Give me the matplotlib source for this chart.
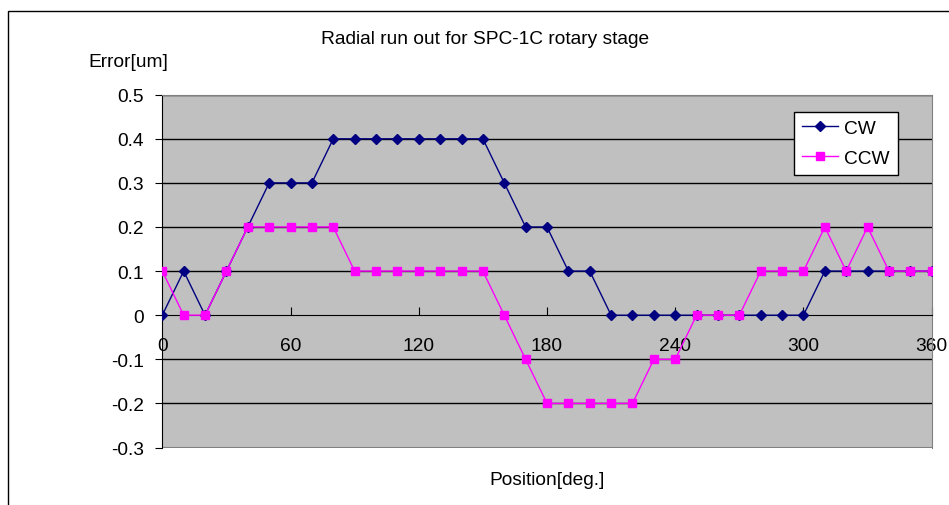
import matplotlib
matplotlib.use("Agg")
import matplotlib.pyplot as plt
from matplotlib.patches import Rectangle

positions = list(range(0, 361, 10))
cw = [0, 0.1, 0, 0.1, 0.2, 0.3, 0.3, 0.3, 0.4, 0.4, 0.4, 0.4, 0.4, 0.4, 0.4, 0.4,
      0.3, 0.2, 0.2, 0.1, 0.1, 0, 0, 0, 0, 0, 0, 0, 0, 0, 0,
      0.1, 0.1, 0.1, 0.1, 0.1, 0.1]
ccw = [0.1, 0, 0, 0.1, 0.2, 0.2, 0.2, 0.2, 0.2, 0.1, 0.1, 0.1, 0.1, 0.1, 0.1, 0.1,
       0, -0.1, -0.2, -0.2, -0.2, -0.2, -0.2, -0.1, -0.1, 0, 0, 0, 0.1, 0.1, 0.1,
       0.2, 0.1, 0.2, 0.1, 0.1, 0.1]
xticks = [0, 60, 120, 180, 240, 300, 360]
yticks = [-0.3, -0.2, -0.1, 0, 0.1, 0.2, 0.3, 0.4, 0.5]
ytick_labels = ["-0.3", "-0.2", "-0.1", "0", "0.1", "0.2", "0.3", "0.4", "0.5"]

plt.rcParams['font.family'] = ['Liberation Sans', 'DejaVu Sans']
FS = 13.8

W, H = 949, 506
fig = plt.figure(figsize=(W / 100, H / 100), dpi=100)

# outer chart frame
fig.patches.append(Rectangle((8 / W, -0.1), 1.2, 1 - 12 / H + 0.1, transform=fig.transFigure,
                             fill=False, edgecolor='black', linewidth=1.0))

ax = fig.add_axes([162.3 / W, 1 - 448.5 / H, (931.7 - 162.3) / W, (448.5 - 95.7) / H])
ax.set_facecolor('#C0C0C0')
ax.set_xlim(0, 360)
ax.set_ylim(-0.3, 0.5)

for y in yticks:
    if y != 0:
        ax.axhline(y, color='black', linewidth=1.0, zorder=1)

ax.plot(positions, cw, color='#000080', marker='D', markersize=5.5, linewidth=1.0,
        label='CW', zorder=3)
ax.plot(positions, ccw, color='#FF00FF', marker='s', markersize=6, linewidth=1.0,
        label='CCW', zorder=3)

ax.spines['bottom'].set_position(('data', 0))
ax.spines['bottom'].set_color('black')
ax.spines['left'].set_color('black')
ax.spines['top'].set_color('#808080')
ax.spines['right'].set_color('#808080')
ax.axhline(-0.3, color='#808080', linewidth=1.5, zorder=1)

ax.set_xticks(xticks)
ax.set_xticklabels([str(v) for v in xticks])
ax.tick_params(axis='x', direction='in', length=6, pad=15.5, labelsize=FS, colors='black')
ax.set_yticks(yticks)
ax.set_yticklabels(ytick_labels)
ax.tick_params(axis='y', direction='out', length=5, pad=8, labelsize=FS)

leg = ax.legend(loc='upper right', bbox_to_anchor=(897.5 / W, 1 - 112.5 / H),
                bbox_transform=fig.transFigure, fancybox=False, framealpha=1,
                edgecolor='black', fontsize=FS, borderaxespad=0, handlelength=1.9,
                labelspacing=0.65, borderpad=0.42, handletextpad=0.3)
leg.get_frame().set_linewidth(1.0)

fig.text(485 / W, 1 - 40 / H, 'Radial run out for SPC-1C rotary stage', ha='center', va='center', fontsize=FS)
fig.text(128 / W, 1 - 63 / H, 'Error[um]', ha='center', va='center', fontsize=FS)
fig.text(547 / W, 1 - 481 / H, 'Position[deg.]', ha='center', va='center', fontsize=FS)

fig.savefig('out.png', dpi=100)
